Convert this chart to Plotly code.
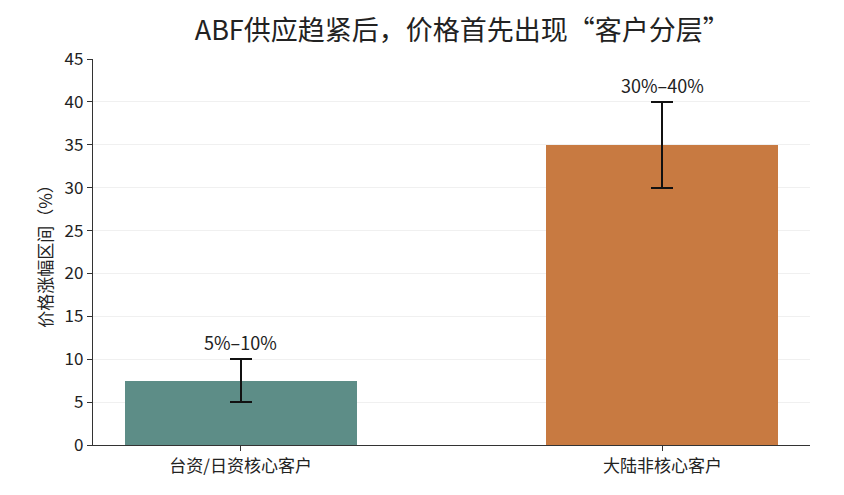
import plotly.graph_objects as go

categories = ['台资/日资核心客户', '大陆非核心客户']
mid_values = [7.5, 35]
half_ranges = [2.5, 5]
range_labels = ['5%–10%', '30%–40%']
bar_colors = ['#5d8d87', '#c87a41']

font_family = 'Noto Sans CJK SC, Noto Sans, sans-serif'

fig = go.Figure()

fig.add_trace(go.Bar(
    x=categories,
    y=mid_values,
    width=0.55,
    marker=dict(color=bar_colors, line=dict(width=0)),
    error_y=dict(type='data', array=half_ranges, visible=True,
                 color='#111111', thickness=2, width=11),
    hoverinfo='x+y',
))

# range labels just above the top of each error bar
annotations = []
for i in range(len(categories)):
    annotations.append(dict(
        x=categories[i], y=mid_values[i] + half_ranges[i],
        xref='x', yref='y',
        text=range_labels[i],
        showarrow=False,
        yanchor='bottom', yshift=2,
        font=dict(size=18, color='#222222', family=font_family),
    ))

# page body adds 8px, so margins are shifted to compensate
fig.update_layout(
    title=dict(text='ABF供应趋紧后，价格首先出现“客户分层”',
               xref='paper', x=0.515, xanchor='center', y=0.955, yanchor='middle',
               font=dict(size=27, color='#222222', family=font_family)),
    annotations=annotations,
    font=dict(family=font_family, size=16, color='#222222'),
    showlegend=False,
    plot_bgcolor='white',
    paper_bgcolor='white',
    width=844, height=495,
    margin=dict(l=85, r=42, t=51, b=58),
    bargap=0,
    xaxis=dict(range=[-0.35, 1.35], showline=True, linecolor='#333333',
               linewidth=1.3, ticks='outside', ticklen=5, tickcolor='#333333',
               showgrid=False, tickfont=dict(size=17)),
    yaxis=dict(range=[0, 45], dtick=5, showline=True, linecolor='#333333',
               linewidth=1.3, ticks='outside', ticklen=5, tickcolor='#333333',
               showgrid=True, gridcolor='#f0f0f0', gridwidth=1,
               zeroline=False, tickfont=dict(size=17),
               title=dict(text='价格涨幅区间（%）', font=dict(size=17), standoff=7)),
)

fig.write_html('out.html')
